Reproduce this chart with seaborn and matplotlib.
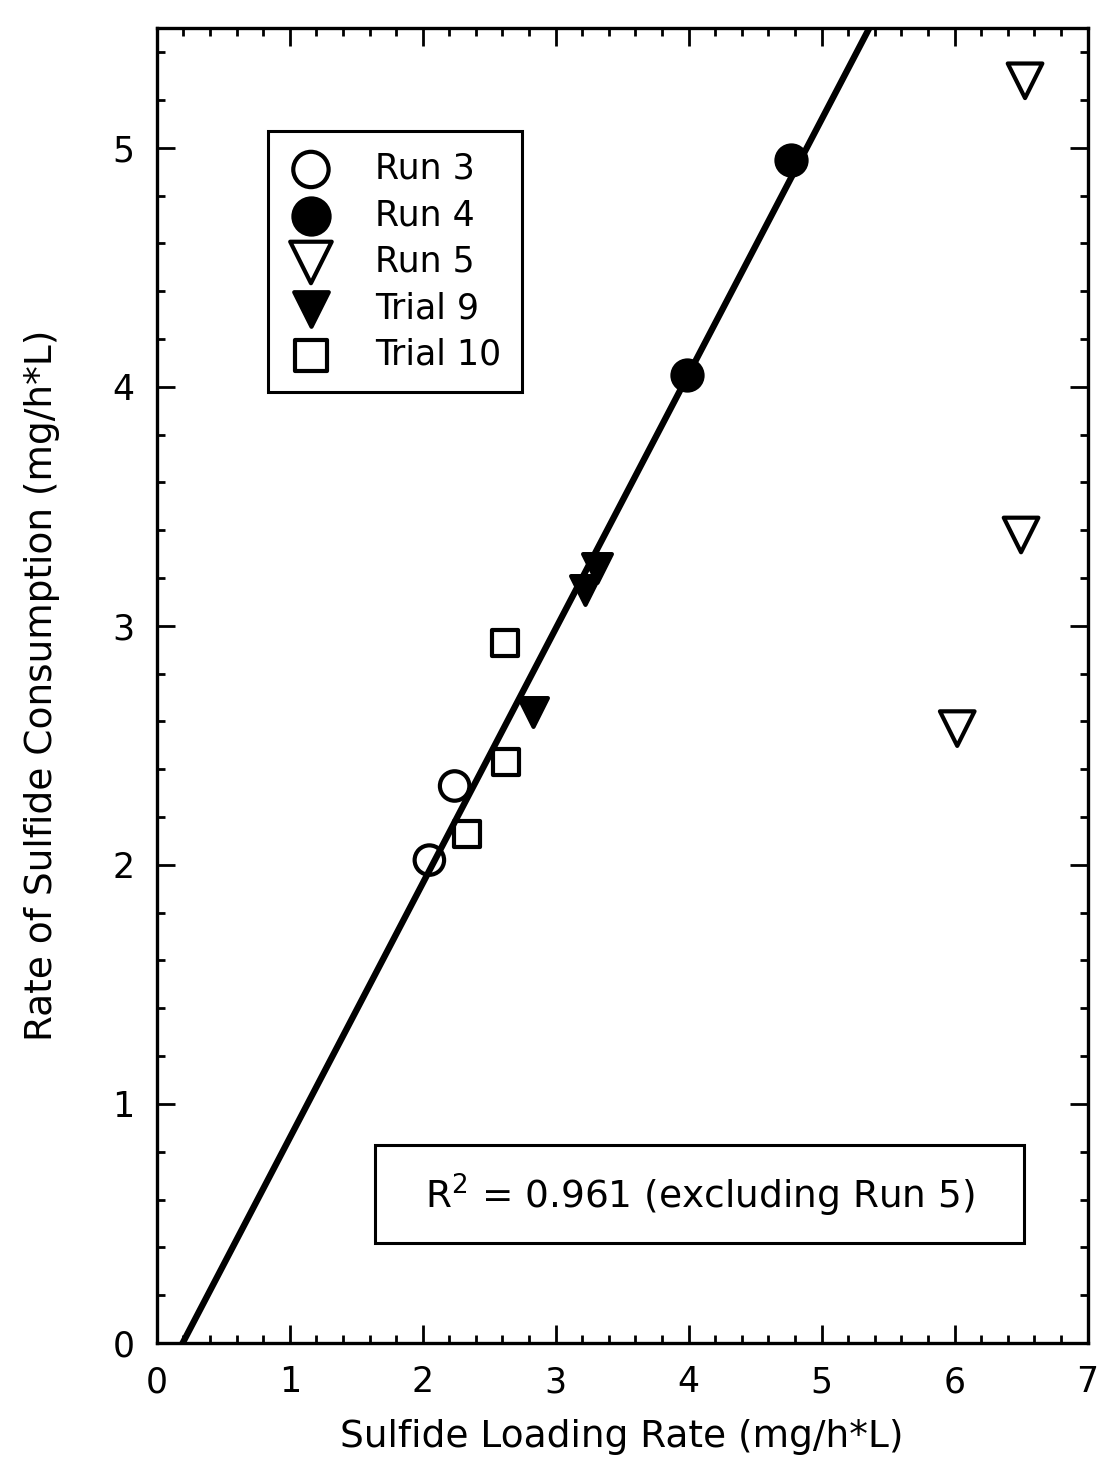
import numpy as np
import pandas as pd
import matplotlib
matplotlib.use("Agg")
import matplotlib.pyplot as plt
import seaborn as sns
from matplotlib.ticker import MultipleLocator
from matplotlib.patches import Rectangle

# ==============================
# Data
# ==============================
RUN3_X = [2.05, 2.24]
RUN3_Y = [2.02, 2.33]

RUN4_X = [3.99, 4.77]
RUN4_Y = [4.05, 4.95]

RUN5_X = [6.53, 6.50, 6.02]
RUN5_Y = [5.28, 3.38, 2.57]

TRIAL9_X = [3.22, 3.31, 2.83]
TRIAL9_Y = [3.15, 3.24, 2.64]

TRIAL10_X = [2.62, 2.63, 2.33]
TRIAL10_Y = [2.93, 2.43, 2.13]

SERIES_NAMES = ["Run 3", "Run 4", "Run 5", "Trial 9", "Trial 10"]
EXCLUDED_FROM_FIT = ["Run 5"]
R2_TEXT = "R$^2$ = 0.961 (excluding Run 5)"

X_TICKS = [0, 1, 2, 3, 4, 5, 6, 7]
Y_TICKS = [0, 1, 2, 3, 4, 5]

# ==============================
# Styles
# ==============================
STYLES = {
    "Run 3": dict(marker="o", face="none", s=450),
    "Run 4": dict(marker="o", face="black", s=470),
    "Run 5": dict(marker="v", face="none", s=620),
    "Trial 9": dict(marker="v", face="black", s=430),
    "Trial 10": dict(marker="s", face="none", s=350),
}

frames = []
for name, xs, ys in zip(SERIES_NAMES,
                        [RUN3_X, RUN4_X, RUN5_X, TRIAL9_X, TRIAL10_X],
                        [RUN3_Y, RUN4_Y, RUN5_Y, TRIAL9_Y, TRIAL10_Y]):
    frames.append(pd.DataFrame({"loading": xs, "consumption": ys, "series": name}))
df = pd.concat(frames, ignore_index=True)
fit_df = df[~df["series"].isin(EXCLUDED_FROM_FIT)]

sns.set_style("ticks")
plt.rcParams["font.family"] = ["DejaVu Sans"]
plt.rcParams["text.color"] = "black"
plt.rcParams["axes.labelcolor"] = "black"

fig = plt.figure(figsize=(11.12, 14.69), dpi=100)
ax = fig.add_axes([0.141, 0.0858, 0.837, 0.895])
ax.set_xlim(0, 7)
ax.set_ylim(0, 5.5)

# regression line over the full x range
sns.regplot(data=fit_df, x="loading", y="consumption", ax=ax, scatter=False,
            ci=None, truncate=False, color="black", line_kws={"linewidth": 4.6})

for name in SERIES_NAMES:
    st = STYLES[name]
    sub = df[df["series"] == name]
    sns.scatterplot(data=sub, x="loading", y="consumption", ax=ax,
                    marker=st["marker"], s=st["s"], facecolor=st["face"],
                    edgecolor="black", linewidth=3.0, label=name, zorder=3)

ax.set_xlim(0, 7)
ax.set_ylim(0, 5.5)
ax.set_xticks(X_TICKS)
ax.set_yticks(Y_TICKS)
ax.xaxis.set_minor_locator(MultipleLocator(0.2))
ax.yaxis.set_minor_locator(MultipleLocator(0.2))
ax.tick_params(which="both", direction="in", top=True, right=True, width=2,
               labelsize=25, pad=16, colors="black")
ax.tick_params(which="major", length=13)
ax.tick_params(which="minor", length=6)
for sp in ax.spines.values():
    sp.set_visible(True)
    sp.set_linewidth(2.4)
    sp.set_color("black")

ax.set_xlabel("Sulfide Loading Rate (mg/h*L)", fontsize=27, labelpad=14)
ax.set_ylabel("Rate of Sulfide Consumption (mg/h*L)", fontsize=27, labelpad=38)

leg = ax.legend(loc="upper left", bbox_to_anchor=(0.119, 0.922), fontsize=25,
                frameon=True, fancybox=False, framealpha=1, edgecolor="black",
                handletextpad=1.2, labelspacing=0.36, borderpad=0.6,
                handlelength=1.3, borderaxespad=0, markerscale=1.2)
leg.get_frame().set_linewidth(2.2)

# R^2 annotation box
ax.add_patch(Rectangle((0.234, 0.076), 0.698, 0.0746, transform=ax.transAxes,
                       facecolor="white", edgecolor="black", linewidth=2.2,
                       zorder=4))
ax.text(0.584, 0.1125, R2_TEXT, transform=ax.transAxes, fontsize=27,
        ha="center", va="center", zorder=5)

fig.savefig("out.png", dpi=100)
